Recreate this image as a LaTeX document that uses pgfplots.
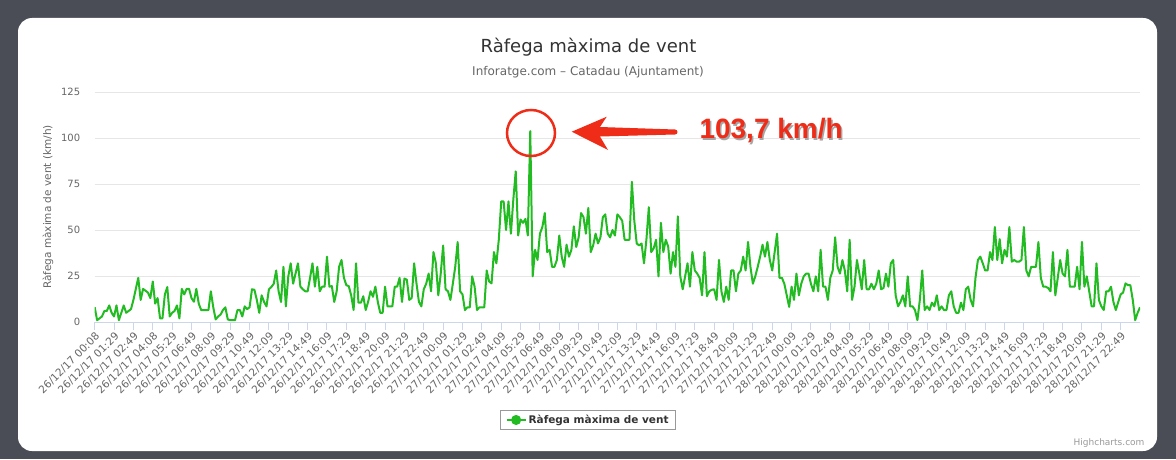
\documentclass[border=0pt]{standalone}
\usepackage{fontspec}
\setmainfont{DejaVu Sans}
\newfontfamily\arialfont{Liberation Sans}
\usepackage{pgfplots}
\usepackage{pgfplotstable}
\pgfplotsset{compat=1.18}
\definecolor{bgdark}{RGB}{74,77,86}
\definecolor{gridc}{RGB}{230,230,230}
\definecolor{axisc}{RGB}{204,214,235}
\definecolor{txtgray}{RGB}{102,102,102}
\definecolor{titlec}{RGB}{51,51,51}
\definecolor{legendc}{RGB}{153,153,153}
\definecolor{linegreen}{RGB}{34,187,34}
\definecolor{annred}{RGB}{238,44,24}
\pgfplotstableread[row sep=\\]{v\\
8\\1\\2\\3\\6\\6\\9\\5\\3\\9\\1\\5\\9\\5\\6\\7\\12\\18\\24\\12\\18\\17\\16\\13\\22\\10\\13\\2\\2\\15\\19\\3\\5\\6\\9\\2\\18\\15\\18\\18\\13\\11\\18\\10\\
6.5\\6.5\\6.5\\6.5\\16.7\\8\\1.4\\3\\4\\6.5\\8\\1.4\\1\\1\\1\\6.5\\6.5\\3\\8.5\\7\\8\\17.8\\17.5\\12\\5\\14.5\\10.9\\8.5\\17.8\\19\\20.8\\28\\16.7\\10.9\\30\\8.5\\24.8\\31.9\\20.8\\26.3\\31.9\\19.2\\17.8\\16.7\\16.7\\24\\31.9\\19.2\\30\\16.7\\19.2\\19.2\\35.5\\
19.2\\19.5\\10.9\\16.7\\30\\33.7\\24\\20\\19.5\\14.5\\6.5\\31.9\\10.5\\10.5\\14\\6.5\\11\\16.7\\13.7\\19.2\\10.9\\5\\5\\19.2\\8.5\\8.5\\8.5\\19.2\\19.2\\24\\10.9\\23.6\\23\\12\\13\\31.9\\20.8\\10.9\\8.5\\17.8\\20.8\\26.3\\16.7\\38\\31.9\\14.5\\26.3\\41.6\\17.8\\16.7\\12\\20.8\\30\\43.5\\
16.7\\15\\6.5\\8\\8\\24.8\\19.2\\6.5\\8\\8\\8\\28\\22\\21\\38\\31.9\\44.7\\65.5\\65.5\\50\\65.5\\48\\66.5\\81.9\\47\\55.7\\53.9\\56\\47\\103.7\\24.8\\39.2\\33.7\\48\\51.6\\59.2\\38\\39.2\\30\\30\\33.7\\47\\35.5\\30\\42\\35.5\\39.2\\52\\40.8\\46\\59.2\\57\\48\\62\\
38\\41.6\\48\\42.7\\46\\57\\58.5\\48\\46\\50\\47\\58.5\\57\\55\\44.7\\44.7\\44.7\\76.2\\55\\42.7\\41.6\\42.7\\31.9\\44.7\\62.4\\38\\40\\44.7\\24.8\\53.9\\38\\44.7\\41\\26.3\\38\\30\\57.4\\24.8\\17.8\\24.8\\31.9\\19.2\\38\\28\\26.3\\24\\14.5\\38\\14\\
16.7\\17.5\\17.8\\12\\33.7\\16.7\\10.9\\19.2\\12\\28\\28\\16.7\\26.3\\28\\35.5\\28\\43.5\\30\\20.8\\24.8\\30\\35.5\\42\\35.5\\43.5\\33.7\\28\\38\\48\\24\\24\\20.8\\14.5\\8.2\\19.2\\12\\26.3\\14.5\\20.8\\24.8\\26.3\\26.3\\20.8\\16.7\\24.8\\16.7\\39.2\\19.2\\19.2\\12\\24\\28\\46\\30\\
26.3\\33.7\\28\\16.7\\44.7\\12\\19.2\\33.7\\26.3\\17.8\\33.7\\17.8\\17.8\\20.8\\17.8\\20.8\\28\\17.8\\18.5\\26.3\\19.2\\31.9\\33.7\\14.5\\8.5\\10.9\\14.5\\8.5\\24.8\\8.5\\8.5\\6.5\\1\\12\\28\\6.5\\8.5\\6.5\\10.5\\8.5\\14.5\\6.5\\8.5\\6.5\\6.5\\14.5\\16.7\\8.5\\5\\5\\10.5\\6.5\\17.8\\19.2\\12\\8.5\\24\\33.7\\
35.5\\31.9\\28\\28\\38\\33.7\\51.6\\33.7\\45\\31.9\\39.2\\35.5\\51.6\\32.8\\33.7\\32.8\\32.8\\33.7\\51.6\\28\\24.8\\30\\30\\30\\43.5\\24\\19.2\\19.2\\18.5\\16.7\\38\\14.5\\24\\33.7\\26.3\\24.8\\39.2\\19.2\\19.2\\19.2\\30\\17.8\\43.5\\19.2\\24.8\\16.7\\8.5\\8.5\\31.9\\12\\8.5\\6.5\\16.7\\16.7\\19.2\\10.9\\6.5\\10.9\\
15\\16\\21\\20\\20\\12\\1\\5\\8\\
}\gusts
\begin{document}
\begin{tikzpicture}[x=1pt,y=1pt]
\useasboundingbox (0,0) rectangle (1176,459);
\fill[bgdark] (0,0) rectangle (1176,459);
\fill[white, rounded corners=14pt] (18,8) rectangle (1157,441);
\node[font=\fontsize{18}{22}\selectfont, text=titlec] at (588.5,412) {Ràfega màxima de vent};
\node[font=\fontsize{12}{14}\selectfont, text=txtgray] at (588,387) {Inforatge.com – Catadau (Ajuntament)};
\begin{axis}[
  at={(94.7pt,137pt)}, anchor=south west,
  scale only axis, width=1045.3pt, height=230pt,
  xmin=0, xmax=432, ymin=0, ymax=125,
  axis lines*=left,
  x axis line style={-, draw=axisc, line width=1pt},
  y axis line style={draw=none},
  ytick={0,25,...,125},
  ymajorgrids, grid style={draw=gridc, line width=1pt},
  ytick style={draw=none},
  xtick style={draw=axisc, line width=1pt},
  tick align=outside, major tick length=8pt,
  /pgf/number format/assume math mode=true,
  yticklabel style={font=\fontsize{10}{12}\selectfont, text=txtgray, xshift=-3pt},
  xtick={0,8,...,424},
  xticklabels={26/12/17 00:08,26/12/17 01:29,26/12/17 02:49,26/12/17 04:08,26/12/17 05:29,26/12/17 06:49,26/12/17 08:09,26/12/17 09:29,26/12/17 10:49,26/12/17 12:09,26/12/17 13:29,26/12/17 14:49,26/12/17 16:09,26/12/17 17:29,26/12/17 18:49,26/12/17 20:09,26/12/17 21:29,26/12/17 22:49,
  27/12/17 00:09,27/12/17 01:29,27/12/17 02:49,27/12/17 04:09,27/12/17 05:29,27/12/17 06:49,27/12/17 08:09,27/12/17 09:29,27/12/17 10:49,27/12/17 12:09,27/12/17 13:29,27/12/17 14:49,27/12/17 16:09,27/12/17 17:29,27/12/17 18:49,27/12/17 20:09,27/12/17 21:29,27/12/17 22:49,
  28/12/17 00:09,28/12/17 01:29,28/12/17 02:49,28/12/17 04:09,28/12/17 05:29,28/12/17 06:49,28/12/17 08:09,28/12/17 09:29,28/12/17 10:49,28/12/17 12:09,28/12/17 13:29,28/12/17 14:49,28/12/17 16:09,28/12/17 17:29,28/12/17 18:49,28/12/17 20:09,28/12/17 21:29,28/12/17 22:49},
  xticklabel style={font=\fontsize{10.5}{12}\selectfont, text=txtgray, rotate=45, anchor=north east, inner sep=1pt},
  ylabel={Ràfega màxima de vent (km/h)},
  ylabel style={font=\fontsize{10.5}{12}\selectfont, text=txtgray, at={(axis description cs:-0.0446,0.5)}, anchor=center},
  legend style={at={(0.472,-0.426)}, anchor=center, draw=legendc, line width=1pt, fill=white,
    font=\bfseries\fontsize{10.5}{12}\selectfont, text=titlec, inner xsep=5pt, inner ysep=3pt},
  legend image code/.code={\draw[linegreen, line width=2pt] (0pt,0pt) -- (19pt,0pt); \fill[linegreen] (9.5pt,0pt) circle (4pt);},
]
\addplot[linegreen, line width=2pt, line join=round] table[x expr=\coordindex, y=v]{\gusts};
\addlegendentry{Ràfega màxima de vent}
\end{axis}
\draw[annred, line width=2.5pt] (531,326) ellipse [x radius=24, y radius=23];
\fill[annred] (571.7,327.3) -- (606.7,342.3) -- (600,332) -- (675,329.5) arc[start angle=90, end angle=-90, radius=2.5] -- (600,322.5) -- (608,309) -- cycle;
\node[font=\arialfont\bfseries\fontsize{28}{30}\selectfont, text=black!35, anchor=west] at (697.5,326.5) {103,7 km/h};
\node[font=\arialfont\bfseries\fontsize{28}{30}\selectfont, text=annred, anchor=west] at (696,328) {103,7 km/h};
\node[font=\fontsize{9}{10}\selectfont, text=legendc, anchor=east] at (1148,16) {Highcharts.com};
\end{tikzpicture}
\end{document}
